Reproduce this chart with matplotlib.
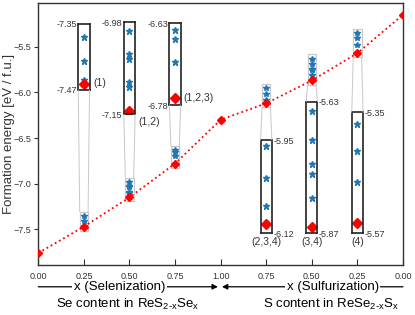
import numpy as np
import matplotlib
matplotlib.use("Agg")
import matplotlib.pyplot as plt
from matplotlib.patches import Rectangle, ConnectionPatch

plt.rcParams['font.family'] = ['Liberation Sans', 'DejaVu Sans']

# composition axis: 0..1 selenization, 1..2 sulfurization (reversed labels)
x_pos = [0.0, 0.25, 0.5, 0.75, 1.0, 1.25, 1.5, 1.75, 2.0]
x_labels = ['0.00', '0.25', '0.50', '0.75', '1.00', '0.75', '0.50', '0.25', '0.00']
e_lowest = [-7.76, -7.47, -7.15, -6.78, -6.30, -6.12, -5.87, -5.57, -5.15]

# other configurations at each mixed composition
conf_x = [0.25, 0.5, 0.75, 1.25, 1.5, 1.75]
conf_e = [
    [-7.35, -7.41, -7.46],
    [-6.98, -7.03, -7.04, -7.09, -7.10],
    [-6.63, -6.65, -6.70],
    [-5.95, -6.02, -6.08],
    [-5.63, -5.69, -5.74, -5.76, -5.81],
    [-5.35, -5.41, -5.48],
]
conf_min = [-7.47, -7.15, -6.78, -6.12, -5.87, -5.57]
site_labels = ['(1)', '(1,2)', '(1,2,3)', '(2,3,4)', '(3,4)', '(4)']

# layout of the zoom boxes (main data coords)
ins_bottom = [-5.974, -6.240, -6.139, -7.544, -7.544, -7.544]
ins_top = [-5.251, -5.233, -5.244, -6.522, -6.102, -6.219]
ins_pad = [(0.014, 0.032), (0.008, 0.018), (0.016, 0.015),
           (0.020, 0.013), (0.014, 0.019), (0.024, 0.026)]
ins_w = 0.062
rect_hw = 0.023
rect_pad = 0.045

blue = '#1f77b4'
dark = '#333333'
light = '#c8c8c8'

fig = plt.figure(figsize=(4.15, 3.15), dpi=100)
ax = fig.add_axes([0.0923, 0.1587, 0.8788, 0.8327])

ax.plot(x_pos, e_lowest, ':', color='red', lw=1.3, marker='D', ms=3.8, zorder=5)
for xc, es in zip(conf_x, conf_e):
    ax.plot([xc] * len(es), es, '*', color=blue, ms=4, zorder=4)

ax.set_xlim(0, 2)
ax.set_ylim(-7.891, -5.018)
ax.set_xticks(x_pos)
ax.set_xticklabels(x_labels)
ax.set_yticks([-7.5, -7.0, -6.5, -6.0, -5.5])
ax.tick_params(axis='x', direction='in', length=4, width=0.8, colors=dark,
               labelsize=6.5, pad=5)
ax.tick_params(axis='y', direction='out', length=3, width=0.8, colors=dark,
               labelsize=6.5, pad=2)
for s in ax.spines.values():
    s.set_color(dark)
    s.set_linewidth(1.0)
ax.set_ylabel('Formation energy [eV / f.u.]', fontsize=9.5, color=dark,
              labelpad=-1)

for i, xc in enumerate(conf_x):
    es = conf_e[i] + [conf_min[i]]
    lo, hi = min(es), max(es)
    left_side = xc < 1.0
    # marked region on the main curve
    ax.add_patch(Rectangle((xc - rect_hw, lo - rect_pad), 2 * rect_hw,
                           hi - lo + 2 * rect_pad, fill=False, ec=light,
                           lw=0.9, zorder=3))
    axins = ax.inset_axes([xc - ins_w / 2, ins_bottom[i], ins_w,
                           ins_top[i] - ins_bottom[i]], transform=ax.transData)
    axins.plot([xc] * len(conf_e[i]), conf_e[i], '*', color=blue, ms=5)
    axins.plot([xc], [conf_min[i]], 'D', color='red', ms=5)
    y0, y1 = lo - ins_pad[i][0], hi + ins_pad[i][1]
    axins.set_xlim(xc - 1, xc + 1)
    axins.set_ylim(y0, y1)
    axins.set_xticks([])
    axins.set_yticks([y0, y1])
    axins.set_yticklabels(['%.2f' % lo, '%.2f' % hi])
    axins.tick_params(axis='y', length=0, pad=1, labelsize=6.5, colors=dark,
                      left=left_side, labelleft=left_side,
                      right=not left_side, labelright=not left_side)
    for s in axins.spines.values():
        s.set_color('#222222')
        s.set_linewidth(1.2)

    if left_side:
        corners = [((0, 0), (xc - rect_hw, hi + rect_pad)),
                   ((1, 0), (xc + rect_hw, hi + rect_pad))]
    else:
        corners = [((0, 1), (xc - rect_hw, lo - rect_pad)),
                   ((1, 1), (xc + rect_hw, lo - rect_pad))]
    for ca, cb in corners:
        con = ConnectionPatch(xyA=ca, coordsA=axins.transAxes, xyB=cb,
                              coordsB=ax.transData, color=light, lw=0.7,
                              zorder=2)
        fig.add_artist(con)

    # configuration label
    if i == 0:
        axins.annotate(site_labels[i], xy=(1, conf_min[i]),
                       xycoords=('axes fraction', 'data'), xytext=(3, 1),
                       textcoords='offset points', ha='left', va='center',
                       fontsize=7.5, color=dark)
    elif i == 1:
        axins.annotate(site_labels[i], xy=(1, 0), xycoords='axes fraction',
                       xytext=(2, -2), textcoords='offset points', ha='left',
                       va='top', fontsize=7.5, color=dark)
    elif i == 2:
        axins.annotate(site_labels[i], xy=(1, conf_min[i]),
                       xycoords=('axes fraction', 'data'), xytext=(2, 0),
                       textcoords='offset points', ha='left', va='center',
                       fontsize=7.5, color=dark)
    else:
        axins.annotate(site_labels[i], xy=(0.5, 0), xycoords='axes fraction',
                       xytext=(0, -3), textcoords='offset points', ha='center',
                       va='top', fontsize=7.5, color=dark)

# direction arrows under the axis
row1 = -0.083
row2 = -0.152
ax.annotate('', xy=(0.985, row1), xycoords=('data', 'axes fraction'),
            xytext=(0.0, row1), textcoords=('data', 'axes fraction'),
            arrowprops=dict(arrowstyle='-|>', color='black', lw=0.9,
                            mutation_scale=8, shrinkA=0, shrinkB=0))
ax.annotate('', xy=(1.007, row1), xycoords=('data', 'axes fraction'),
            xytext=(2.0, row1), textcoords=('data', 'axes fraction'),
            arrowprops=dict(arrowstyle='-|>', color='black', lw=0.9,
                            mutation_scale=8, shrinkA=0, shrinkB=0))
bb = dict(facecolor='white', edgecolor='none', pad=1.0)
ax.annotate('x (Selenization)', xy=(0.445, row1),
            xycoords=('data', 'axes fraction'), ha='center', va='center',
            fontsize=9.5, bbox=bb)
ax.annotate('x (Sulfurization)', xy=(1.615, row1),
            xycoords=('data', 'axes fraction'), ha='center', va='center',
            fontsize=9.5, bbox=bb)
ax.annotate(r'Se content in ReS$_{\mathregular{2\text{-}x}}$Se$_{\mathregular{x}}$',
            xy=(0.49, row2), xycoords=('data', 'axes fraction'),
            ha='center', va='center', fontsize=9.5)
ax.annotate(r'S content in ReSe$_{\mathregular{2\text{-}x}}$S$_{\mathregular{x}}$',
            xy=(1.605, row2), xycoords=('data', 'axes fraction'),
            ha='center', va='center', fontsize=9.5)

fig.savefig('out.png', dpi=100)
